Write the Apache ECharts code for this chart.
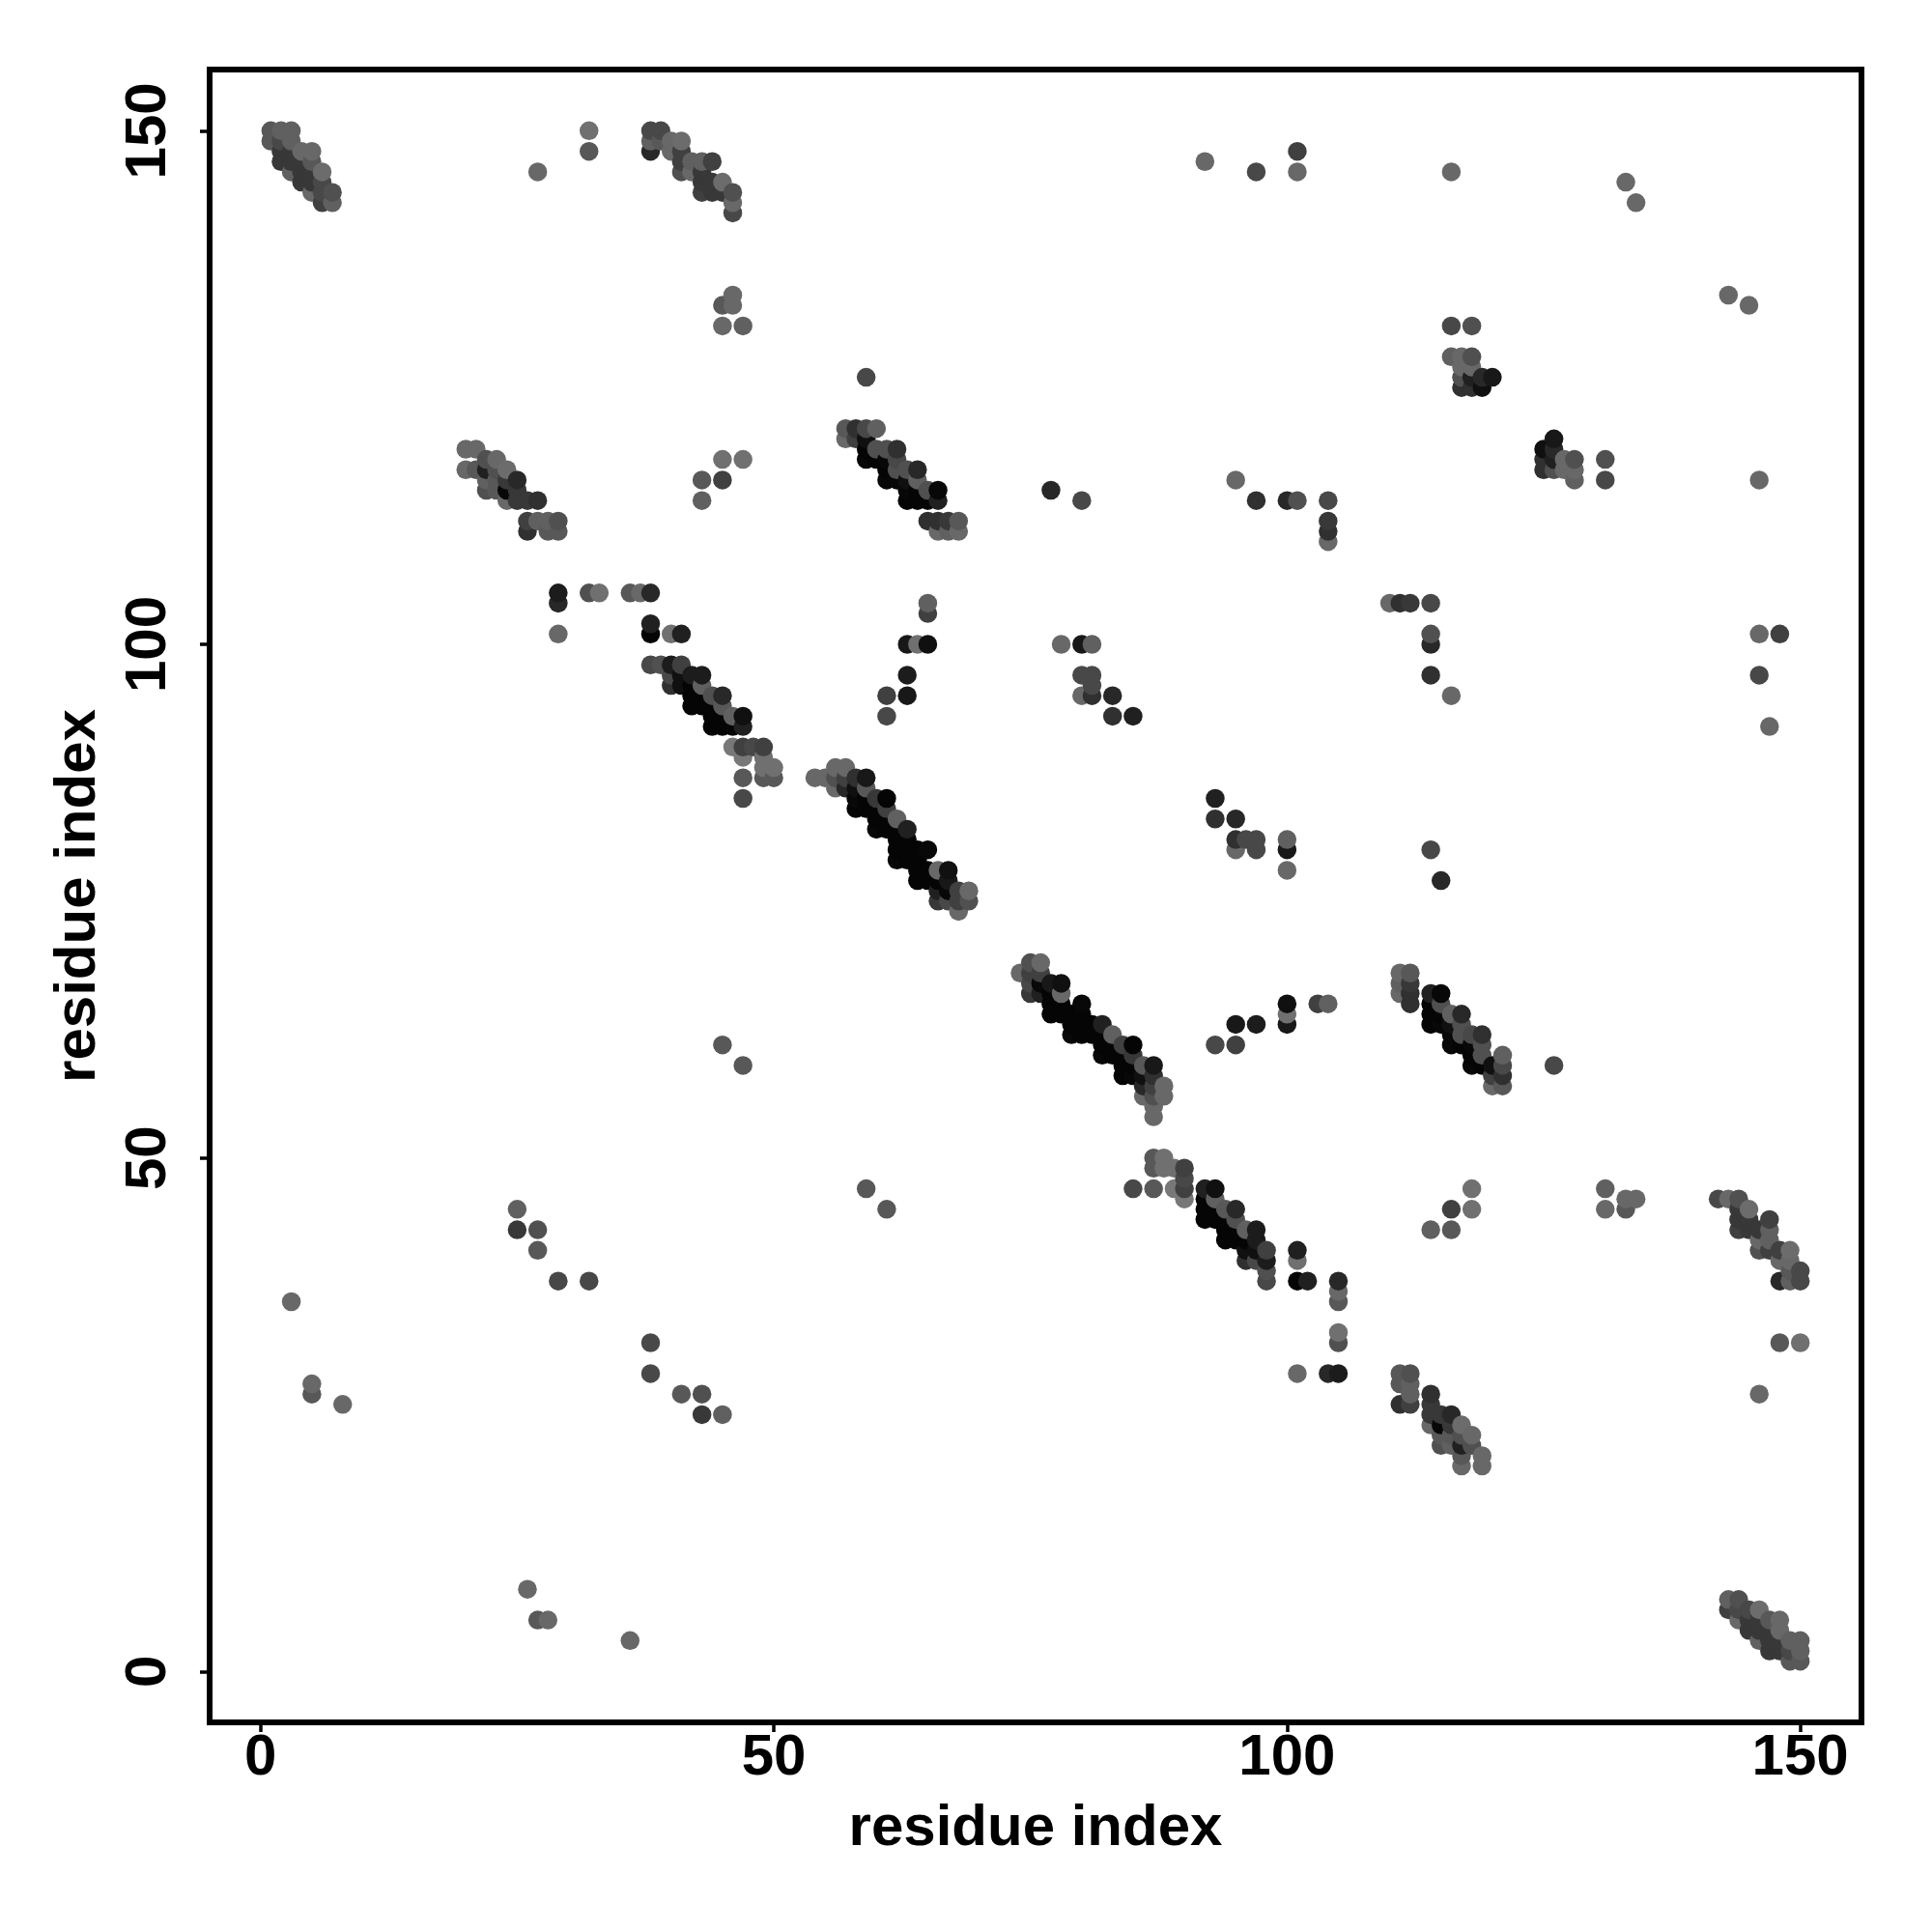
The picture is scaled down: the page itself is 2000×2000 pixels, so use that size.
<!DOCTYPE html>
<html>
<head>
<meta charset="utf-8">
<style>html,body{margin:0;padding:0;background:#fff}#chart{width:2000px;height:2000px}</style>
<script src="https://cdn.jsdelivr.net/npm/echarts@6/dist/echarts.min.js"></script>
</head>
<body>
<div id="chart"></div>
<script>
// Tick labels and axis titles
const tickValues = [0, 50, 100, 150];
const xTitle = 'residue index';
const yTitle = 'residue index';

const clusterA = [[1,150,0x58],[1,149,0x58],[2,150,0x60],[2,149,0x48],[2,148,0x38],[2,147,0x38],[3,150,0x60],[3,149,0x60],[3,148,0x38],[3,147,0x38],[3,146,0x60],[4,148,0x68],[4,147,0x38],[4,146,0x38],[4,145,0x38],[5,148,0x68],[5,147,0x58],[5,146,0x38],[5,145,0x38],[5,144,0x68],[6,146,0x6c],[6,145,0x48],[6,144,0x48],[6,143,0x40],[7,144,0x50],[7,143,0x60]];
const clusterB = [[38,150,0x48],[38,149,0x60],[38,148,0x28],[39,150,0x48],[39,149,0x58],[40,149,0x68],[40,148,0x68],[41,149,0x6c],[41,148,0x40],[41,147,0x40],[41,146,0x50],[42,147,0x60],[42,146,0x68],[43,147,0x60],[43,146,0x38],[43,145,0x38],[43,144,0x40],[44,147,0x40],[44,145,0x38],[44,144,0x38],[45,145,0x6c],[45,144,0x38],[46,144,0x50],[46,143,0x68],[46,142,0x48]];
const clusterC = [[20,119,0x68],[20,117,0x68],[21,119,0x68],[21,117,0x58],[22,118,0x50],[22,117,0x20],[22,116,0x60],[22,115,0x50],[23,118,0x68],[23,117,0x50],[23,116,0x58],[23,115,0x58],[24,117,0x6c],[24,116,0x38],[24,115,0x08],[24,114,0x68],[25,116,0x28],[25,115,0x38],[25,114,0x38],[26,114,0x38],[26,112,0x40],[26,111,0x30],[27,114,0x30],[27,112,0x60],[28,112,0x60],[28,111,0x58],[29,112,0x50],[29,111,0x58]];
const clusterD = [[57,121,0x58],[57,120,0x68],[58,121,0x30],[58,120,0x40],[59,121,0x48],[59,120,0x10],[59,119,0x05],[59,118,0x08],[60,121,0x60],[60,119,0x50],[60,118,0x05],[61,119,0x50],[61,118,0x08],[61,117,0x05],[61,116,0x08],[62,119,0x30],[62,118,0x48],[62,117,0x50],[62,116,0x08],[63,117,0x50],[63,116,0x10],[63,115,0x08],[63,114,0x05],[64,117,0x28],[64,116,0x60],[64,115,0x05],[64,114,0x05],[65,115,0x50],[65,114,0x05],[65,112,0x30],[66,115,0x08],[66,114,0x20],[66,112,0x30],[66,111,0x68],[67,112,0x38],[67,111,0x60],[68,112,0x58],[68,111,0x68]];
const clusterE = [[38,98,0x48],[39,98,0x50],[40,98,0x1c],[40,97,0x48],[40,96,0x30],[41,98,0x40],[41,97,0x10],[41,96,0x10],[42,97,0x1c],[42,96,0x05],[42,95,0x05],[42,94,0x05],[43,97,0x1c],[43,96,0x60],[43,95,0x05],[43,94,0x05],[44,95,0x50],[44,94,0x05],[44,93,0x05],[44,92,0x05],[45,95,0x28],[45,94,0x58],[45,93,0x05],[45,92,0x05],[46,93,0x60],[46,92,0x05],[46,90,0x78],[47,93,0x10],[47,92,0x20],[47,90,0x40],[47,89,0x78],[47,87,0x58],[47,85,0x48],[48,90,0x48],[49,90,0x40],[49,89,0x70],[49,88,0x70],[49,87,0x58],[50,88,0x70],[50,87,0x58]];
const clusterF = [[54,87,0x68],[55,87,0x68],[56,88,0x68],[56,87,0x50],[56,86,0x68],[57,88,0x68],[57,87,0x40],[57,86,0x28],[58,87,0x30],[58,86,0x10],[58,85,0x08],[58,84,0x05],[59,87,0x18],[59,86,0x58],[59,85,0x05],[59,84,0x05],[60,85,0x38],[60,84,0x05],[60,83,0x05],[60,82,0x08],[61,85,0x05],[61,84,0x40],[61,83,0x05],[61,82,0x05],[62,83,0x60],[62,82,0x05],[62,81,0x05],[62,80,0x05],[62,79,0x08],[63,82,0x20],[63,81,0x05],[63,80,0x05],[63,79,0x05],[64,80,0x05],[64,79,0x05],[64,78,0x05],[64,77,0x05],[65,80,0x08],[65,78,0x05],[65,77,0x05],[66,78,0x68],[66,77,0x05],[66,76,0x20],[66,75,0x38],[67,78,0x10],[67,77,0x18],[67,76,0x08],[67,75,0x48],[68,76,0x40],[68,75,0x40],[68,74,0x68],[69,76,0x68],[69,75,0x50]];
const clusterG = [[116,131,0x48],[118,131,0x50],[116,128,0x60],[117,128,0x68],[118,128,0x50],[117,127,0x68],[118,127,0x68],[117,126,0x50],[118,126,0x20],[119,126,0x28],[120,126,0x18],[117,125,0x30],[118,125,0x30],[119,125,0x10]];
const scatterTop = [[27,146,0x68],[32,150,0x70],[32,148,0x58],[92,147,0x68],[97,146,0x48],[101,148,0x40],[101,146,0x68],[116,146,0x68],[133,145,0x68],[134,143,0x68],[46,134,0x68],[45,133,0x58],[46,133,0x68],[45,131,0x68],[47,131,0x60],[45,118,0x70],[47,118,0x70],[43,116,0x58],[45,116,0x40],[43,114,0x60],[59,126,0x48]];
const scatterMid = [[77,115,0x28],[80,114,0x48],[95,116,0x68],[97,114,0x30],[100,114,0x28],[101,114,0x50],[104,114,0x48],[104,112,0x38],[104,111,0x30],[104,110,0x68],[65,104,0x60],[65,103,0x40],[63,100,0x18],[64,100,0x70],[65,100,0x10],[63,97,0x1c],[61,95,0x40],[63,95,0x18],[61,93,0x48],[29,105,0x1c],[29,104,0x28],[29,101,0x68],[32,105,0x50],[33,105,0x70],[36,105,0x58],[37,105,0x68],[38,105,0x28],[38,102,0x20],[38,101,0x05],[40,101,0x70],[41,101,0x20]];
const scatterLow = [[78,100,0x68],[80,100,0x18],[81,100,0x60],[80,97,0x48],[81,97,0x48],[81,96,0x48],[80,95,0x68],[81,95,0x30],[83,95,0x28],[83,93,0x30],[85,93,0x20],[45,61,0x58],[47,59,0x58],[25,45,0x60],[25,43,0x38],[27,43,0x50],[27,41,0x58],[29,38,0x48],[32,38,0x48],[3,36,0x68],[5,28,0x68],[5,27,0x58],[8,26,0x68]];

const halfMap = [].concat(clusterA, clusterB, clusterC, clusterD, clusterE, clusterF, clusterG, scatterTop, scatterMid, scatterLow);
// The map is symmetric; points are painted column by column, upward.
const points = halfMap.concat(halfMap.map(p => [p[1], p[0], p[2]]))
  .sort((a, b) => a[0] - b[0] || a[1] - b[1]);

const font = '"Liberation Sans", Arimo, Helvetica, Arial, sans-serif';
const labelStyle = { fontFamily: font, fontWeight: 'bold', fontSize: 60, color: '#000' };

const chart = echarts.init(document.getElementById('chart'), null, { renderer: 'canvas' });
chart.setOption({
  animation: false,
  backgroundColor: '#fff',
  grid: { show: true, left: 217, top: 72, width: 1710, height: 1711, borderColor: '#000', borderWidth: 6, backgroundColor: 'transparent', containLabel: false },
  xAxis: {
    type: 'value', min: -4.96, max: 155.96,
    name: xTitle, nameLocation: 'middle', nameGap: 80,
    nameTextStyle: labelStyle,
    axisLine: { show: false, onZero: false },
    splitLine: { show: false },
    axisTick: { show: true, length: 10, customValues: tickValues, lineStyle: { color: '#000', width: 3.5 } },
    axisLabel: Object.assign({ show: true, margin: 7, customValues: tickValues, hideOverlap: false, showMinLabel: true, showMaxLabel: true }, labelStyle)
  },
  yAxis: {
    type: 'value', min: -4.96, max: 155.96,
    name: yTitle, nameLocation: 'middle', nameGap: 106,
    nameTextStyle: labelStyle,
    axisLine: { show: false, onZero: false },
    splitLine: { show: false },
    axisTick: { show: true, length: 10, customValues: tickValues, lineStyle: { color: '#000', width: 3.5 } },
    axisLabel: Object.assign({ show: true, rotate: 90, margin: 63, customValues: tickValues, hideOverlap: false, showMinLabel: true, showMaxLabel: true, verticalAlign: 'middle', align: 'center' }, labelStyle)
  },
  series: [{
    type: 'scatter',
    symbol: 'circle',
    symbolSize: 19.5,
    silent: true,
    large: false,
    data: points,
    itemStyle: {
      opacity: 1,
      color: params => { const g = params.value[2]; return 'rgb(' + g + ',' + g + ',' + g + ')'; }
    }
  }]
});
</script>
</body>
</html>
